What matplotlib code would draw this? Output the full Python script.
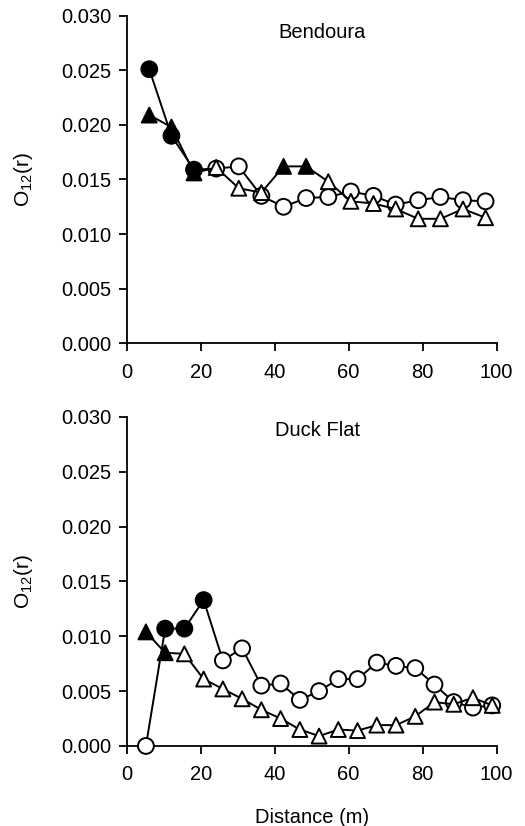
import numpy as np
import matplotlib
matplotlib.use('Agg')
import matplotlib.pyplot as plt

plt.rcParams['font.family'] = ['Liberation Sans', 'DejaVu Sans']
plt.rcParams['mathtext.fontset'] = 'custom'
plt.rcParams['mathtext.rm'] = 'Liberation Sans'
plt.rcParams['mathtext.it'] = 'Liberation Sans:italic'

    # Bendoura data
bend_x = [6.1, 12.1, 18.2, 24.2, 30.3, 36.4, 42.4, 48.5, 54.5, 60.6, 66.7, 72.7, 78.8, 84.8, 90.9, 97.0]
bend_circ = [0.0251, 0.0190, 0.0159, 0.0160, 0.0162, 0.0135, 0.0125, 0.0133, 0.0134, 0.0139,
             0.0135, 0.0127, 0.0131, 0.0134, 0.0131, 0.0130]
bend_circ_fill = [1, 1, 1, 0, 0, 0, 0, 0, 0, 0, 0, 0, 0, 0, 0, 0]
bend_tri = [0.0209, 0.0198, 0.0156, 0.0161, 0.0142, 0.0138, 0.0162, 0.0162, 0.0148, 0.0130,
            0.0128, 0.0123, 0.0114, 0.0114, 0.0123, 0.0115]
bend_tri_fill = [1, 1, 1, 0, 0, 0, 1, 1, 0, 0, 0, 0, 0, 0, 0, 0]

    # Duck Flat data
duck_x = [5.2, 10.4, 15.6, 20.8, 26.0, 31.2, 36.4, 41.6, 46.8, 52.0, 57.2, 62.4, 67.6, 72.8,
          78.0, 83.2, 88.4, 93.6, 98.8]
duck_circ = [0.0000, 0.0107, 0.0107, 0.0133, 0.0078, 0.0089, 0.0055, 0.0057, 0.0042, 0.0050,
             0.0061, 0.0061, 0.0076, 0.0073, 0.0071, 0.0056, 0.0040, 0.0035, 0.0037]
duck_circ_fill = [0, 1, 1, 1, 0, 0, 0, 0, 0, 0, 0, 0, 0, 0, 0, 0, 0, 0, 0]
duck_tri = [0.0104, 0.0085, 0.0084, 0.0061, 0.0052, 0.0043, 0.0033, 0.0025, 0.0015, 0.0009,
            0.0015, 0.0014, 0.0019, 0.0019, 0.0027, 0.0040, 0.0038, 0.0044, 0.0037]
duck_tri_fill = [1, 1, 0, 0, 0, 0, 0, 0, 0, 0, 0, 0, 0, 0, 0, 0, 0, 0, 0]

xticks = [0, 20, 40, 60, 80, 100]
yticks = [0.000, 0.005, 0.010, 0.015, 0.020, 0.025, 0.030]


def series(ax, x, y, fill, marker, size, z):
    ax.plot(x, y, color='black', lw=1.4, zorder=z)
    fc = ['black' if f else 'white' for f in fill]
    ax.scatter(x, y, marker=marker, s=size, facecolors=fc, edgecolors='black',
               linewidths=1.4, zorder=z + 1, clip_on=False)


def panel(ax, title, tx, ty):
    ax.set_xlim(0, 100)
    ax.set_ylim(0, 0.030)
    ax.set_xticks(xticks)
    ax.set_yticks(yticks)
    ax.set_yticklabels([f'{v:.3f}' for v in yticks])
    for s in ['top', 'right']:
        ax.spines[s].set_visible(False)
    for s in ['left', 'bottom']:
        ax.spines[s].set_linewidth(1.3)
    ax.tick_params(direction='out', length=6, width=1.3, labelsize=14.5)
    ax.tick_params(axis='x', pad=8)
    ax.tick_params(axis='y', pad=5)
    ax.set_ylabel(r'O$_{\mathregular{12}}$(r)', fontsize=15, labelpad=19)
    ax.text(tx, ty, title, transform=ax.transAxes, ha='center', va='center', fontsize=14.5)


fig = plt.figure(figsize=(5.25, 8.26), dpi=100)
ax1 = fig.add_axes([0.2413, 0.5844, 0.7047, 0.3966])
ax2 = fig.add_axes([0.2413, 0.0969, 0.7047, 0.3983])

series(ax1, bend_x, bend_circ, bend_circ_fill, 'o', 130, 2)
series(ax1, bend_x, bend_tri, bend_tri_fill, '^', 115, 4)
panel(ax1, 'Bendoura', 0.528, 0.95)

series(ax2, duck_x, duck_circ, duck_circ_fill, 'o', 130, 2)
series(ax2, duck_x, duck_tri, duck_tri_fill, '^', 115, 4)
panel(ax2, 'Duck Flat', 0.517, 0.96)
ax2.set_xlabel('Distance (m)', fontsize=14.5, labelpad=17)

fig.savefig('out.png', dpi=100)
